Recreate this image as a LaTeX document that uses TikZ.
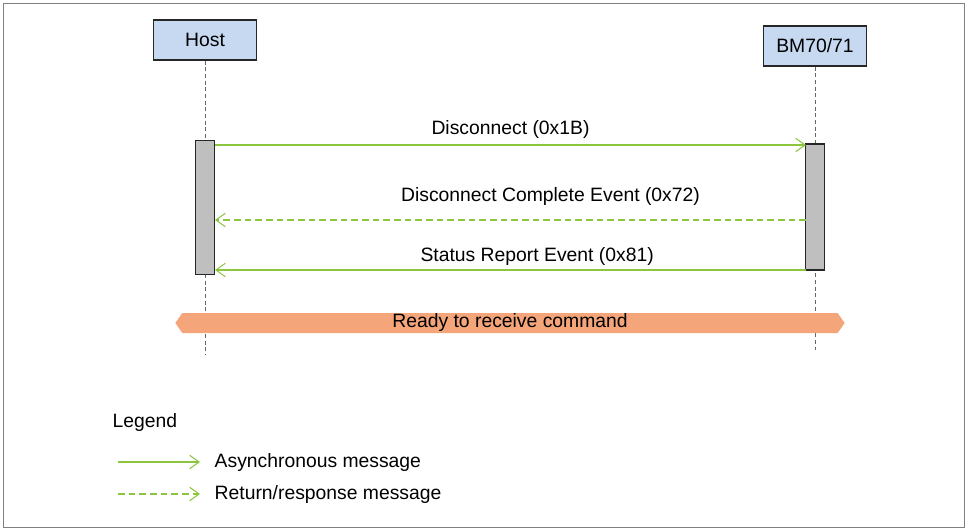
\documentclass[tikz,border=0pt]{standalone}
\usepackage{fontspec}
\setmainfont{Liberation Sans}
\usetikzlibrary{arrows.meta,shapes.arrows}
\definecolor{msg}{HTML}{8CC63F}
\definecolor{boxblue}{HTML}{C6D9F1}
\definecolor{org}{HTML}{F4A57A}
\begin{document}
\begin{tikzpicture}[x=0.75pt,y=-0.75pt,font=\fontsize{14.5}{16}\selectfont,
 part/.style={draw=black!85,thick,fill=boxblue,minimum width=77pt,minimum height=30pt,inner sep=0},
 life/.style={densely dashed,black!60,thin},
 bar/.style={draw=black!85,thick,fill=black!25,minimum width=14pt,inner sep=0},
 sync/.style={msg,thick,-{Straight Barb[length=7pt,width=10pt]}},
 ret/.style={sync,dash pattern=on 5pt off 3pt}]
\useasboundingbox (0,0) rectangle (968,531);
\draw[black!50] (3,3) rectangle (964,527);
\node[part] (host) at (205,40) {Host};
\node[part] (bm) at (815,46) {BM70/71};
\coordinate (hb) at (205,355);
\coordinate (bb) at (815,350);
\draw[life] (host.south) -- (hb);
\draw[life] (bm.south) -- (bb);
\node[bar,minimum height=100pt] (ha) at (205,207.5) {};
\node[bar,minimum height=94.5pt] (ba) at (815,207) {};
\coordinate (a1) at (215,145); \coordinate (b1) at (806,145);
\coordinate (a2) at (215,220); \coordinate (b2) at (806,220);
\coordinate (a3) at (215,270); \coordinate (b3) at (806,270);
\draw[sync] (a1) -- node[above=1pt,black] {Disconnect (0x1B)} (b1);
\draw[ret] (b2) -- node[above=7pt,black,xshift=30pt] {Disconnect Complete Event (0x72)} (a2);
\draw[sync] (b3) -- node[above=0pt,black,xshift=20pt] {Status Report Event (0x81)} (a3);
\node[double arrow,fill=org,minimum height=502pt,minimum width=15pt,double arrow head extend=0pt,inner sep=0,double arrow tip angle=110] (ready) at (510,323) {};
\node at (ready) {Ready to receive command};
\node[anchor=west] (leg) at (108,422) {Legend};
\coordinate (l1) at (118,462); \coordinate (l2) at (200,462);
\coordinate (l3) at (118,494); \coordinate (l4) at (200,494);
\draw[sync] (l1) -- (l2);
\draw[ret] (l3) -- (l4);
\node[anchor=west] (t1) at (210,462) {Asynchronous message};
\node[anchor=west] (t2) at (210,494) {Return/response message};
\end{tikzpicture}
\end{document}
